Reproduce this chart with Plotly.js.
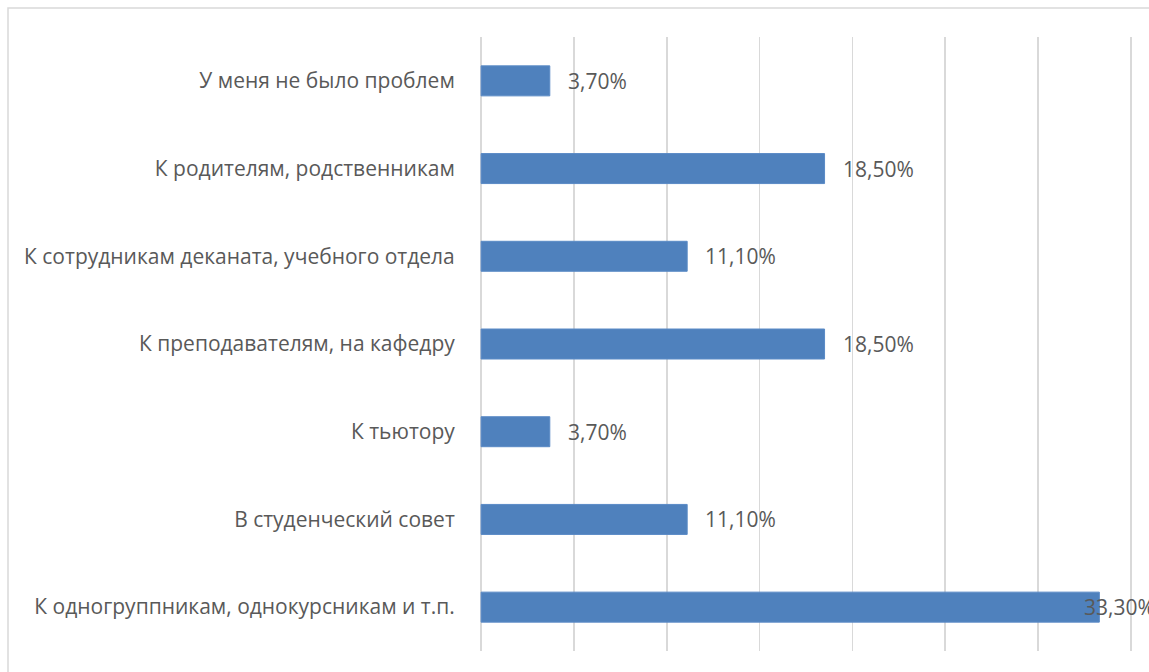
<!DOCTYPE html>
<html>
<head>
<meta charset="utf-8">
<script src="https://cdn.plot.ly/plotly-3.0.1.min.js"></script>
<style>html,body{margin:0;padding:0;background:#fff;}#chart{width:1149px;height:672px;}</style>
</head>
<body>
<div id="chart"></div>
<script>
// Data (top to bottom as in the chart)
const categories = [
  "У меня не было проблем",
  "К родителям, родственникам",
  "К сотрудникам деканата, учебного отдела",
  "К преподавателям, на кафедру",
  "К тьютору",
  "В студенческий совет",
  "К одногруппникам, однокурсникам и т.п."
];
const values = [3.7, 18.5, 11.1, 18.5, 3.7, 11.1, 33.3];
const xMax = 35;
const xStep = 5;

const fmt = v => v.toFixed(2).replace('.', ',') + '%';
const textColor = '#595959';
const fontFamily = '"Open Sans", "DejaVu Sans", sans-serif';

const trace = {
  type: 'bar',
  orientation: 'h',
  x: values,
  y: categories,
  marker: {color: '#4f81bd', line: {color: '#5a8ac6', width: 1}},
  hoverinfo: 'x+y'
};

const annotations = values.map((v, i) => {
  const overflow = v > xMax - 4;
  return {
    x: v, y: categories[i], xref: 'x', yref: 'y',
    text: fmt(v), showarrow: false,
    xanchor: 'left', xshift: overflow ? -17 : 16,
    font: {family: fontFamily, size: 21, color: textColor}
  };
});

const pad = 0.06;
const layout = {
  width: 1149, height: 672,
  margin: {l: 480, r: 17, t: 37, b: 21},
  paper_bgcolor: '#ffffff', plot_bgcolor: '#ffffff',
  showlegend: false,
  bargap: 0.658,
  font: {family: fontFamily, color: textColor},
  xaxis: {
    range: [-pad, xMax + pad], dtick: xStep, tick0: 0,
    showticklabels: false, showgrid: true, gridcolor: '#d9d9d9', gridwidth: 1.5,
    zeroline: false, showline: false, fixedrange: true
  },
  yaxis: {
    type: 'category', autorange: 'reversed',
    showgrid: false, zeroline: false, showline: false,
    ticks: 'outside', ticklen: 20, tickcolor: 'rgba(0,0,0,0)',
    tickfont: {family: fontFamily, size: 21, color: textColor},
    automargin: false, fixedrange: true
  },
  annotations: annotations,
  shapes: [{
    type: 'rect', xref: 'paper', yref: 'paper',
    x0: (8 - 480) / 652, x1: 1.2, y0: -0.2, y1: (651 - 8) / 614,
    line: {color: '#d9d9d9', width: 1.5}, fillcolor: 'rgba(0,0,0,0)', layer: 'below'
  }]
};

Plotly.newPlot('chart', [trace], layout, {displayModeBar: false, staticPlot: true});
</script>
</body>
</html>
